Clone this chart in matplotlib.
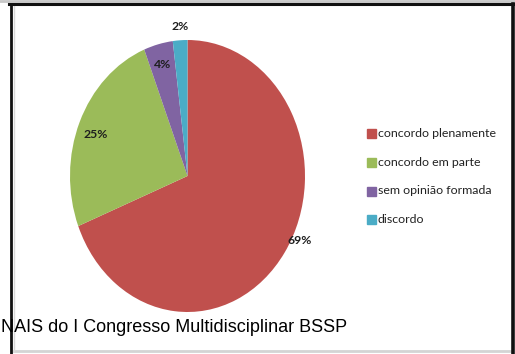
import matplotlib
matplotlib.use("Agg")
import matplotlib.pyplot as plt
from matplotlib.patches import Rectangle
from matplotlib.lines import Line2D

# data
labels = ["concordo plenamente", "concordo em parte", "sem opinião formada", "discordo"]
values = [69, 25, 4, 2]
pct_labels = ["69%", "25%", "4%", "2%"]
colors = ["#C0504D", "#9BBB59", "#8064A2", "#4BACC6"]
footer = "NAIS do I Congresso Multidisciplinar BSSP"

W, H = 515, 354
fig = plt.figure(figsize=(W / 100, H / 100), dpi=100)
fig.patch.set_facecolor("white")


def px(x, y):
    # pixel coords (top-left origin) -> figure fraction
    return x / W, 1 - y / H


# pie (stretched vertically like the original)
ax = fig.add_axes([70 / W, 42 / H, 235 / W, 272 / H])
wedges, _ = ax.pie(values, colors=colors, startangle=90, counterclock=False,
                   wedgeprops=dict(linewidth=0))
ax.set_aspect("auto")
ax.set_xlim(-1, 1)
ax.set_ylim(-1, 1)
ax.axis("off")

# percentage labels
lab_pos = [(300, 240), (96, 135), (163, 64), (180, 27)]
for t, (x, y) in zip(pct_labels, lab_pos):
    fig.text(*px(x, y), t, ha="center", va="center", fontsize=8.8,
             family="Lato", color="#1e1e1e", fontweight="bold")

# legend
for i, (lab, c) in enumerate(zip(labels, colors)):
    y = 134 + i * 28.5
    fig.patches.append(Rectangle(px(367, y + 4.5), 9 / W, 9 / H, color=c,
                                 transform=fig.transFigure))
    fig.text(*px(378, y), lab, ha="left", va="center", fontsize=8.9,
             family="Lato", color="#222222")

# frame
def line(x0, y0, x1, y1, c, lw):
    fig.add_artist(Line2D([x0 / W, x1 / W], [1 - y0 / H, 1 - y1 / H],
                          color=c, lw=lw, transform=fig.transFigure))

line(0, 1, W, 1, "#c8c8c8", 2)
line(14, 351, 512, 351, "#d4d4d4", 2)
line(14, 5, 14, 351, "#d8d8d8", 1)

# footer text (overflowing from the page)
fig.text(*px(1, 328), footer, ha="left", va="center", fontsize=13,
         family="Liberation Sans", color="black")

line(9, 4, W, 4, "#111111", 2.2)
line(11, 4, 11, H, "#111111", 2)
line(513, 4, 513, H, "#111111", 2.6)

fig.savefig("out.png", dpi=100)
